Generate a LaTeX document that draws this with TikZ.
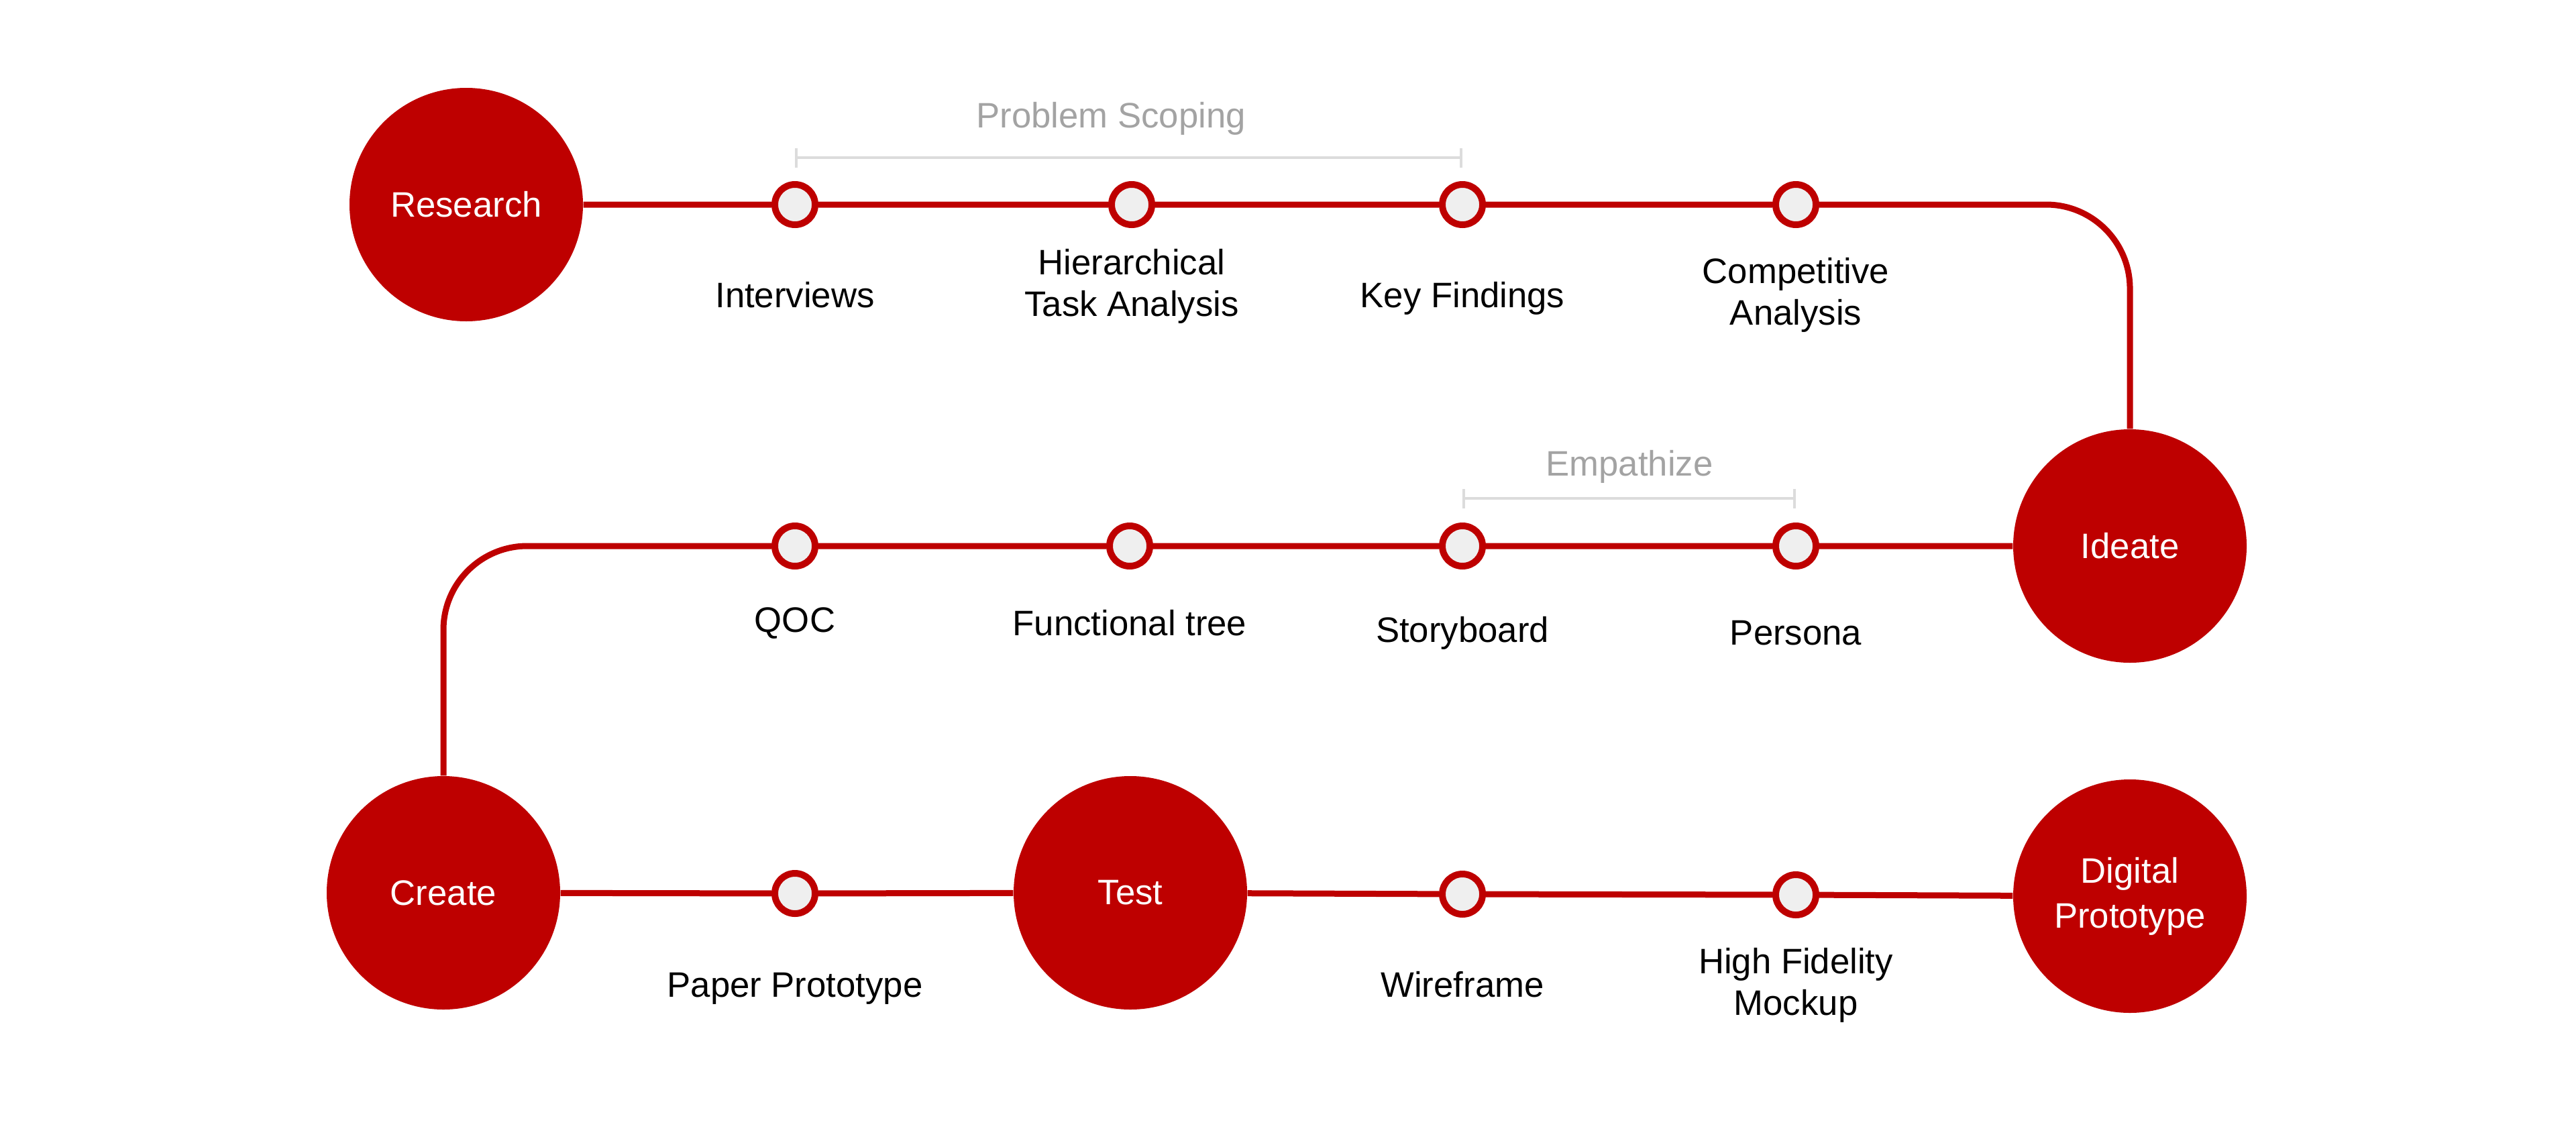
\documentclass[tikz,border=0pt]{standalone}
\usepackage{fontspec}
\setmainfont{Liberation Sans}
\usetikzlibrary{positioning, arrows.meta}
\definecolor{flowred}{HTML}{BE0000}
\definecolor{dotfill}{HTML}{EFEFEF}
\definecolor{phasegray}{HTML}{A3A3A3}
\definecolor{bracketgray}{HTML}{DCDCDC}

\begin{document}
\begin{tikzpicture}[node distance={1.35cm},
    stage/.style = {circle, fill=flowred, minimum size=3.48cm, inner sep=0pt, text=white, align=center, font=\fontsize{15}{19}\selectfont},
    stop/.style = {circle, draw=flowred, line width=1mm, fill=dotfill, minimum size=6mm, inner sep=0pt},
    caption/.style = {align=center, font=\fontsize{15}{17.5}\selectfont},
    phase/.style = {text=phasegray, font=\fontsize{15}{18}\selectfont},
    track/.style = {flowred, line width=0.9mm, rounded corners=1.25cm},
    span/.style = {bracketgray, line width=0.4mm, {Bar[width=2.9mm]}-{Bar[width=2.9mm]}}]
    \useasboundingbox (0,0) rectangle (38.4,-17.06);

    % stages
    \node[stage] (research) at (6.95,-3.05) {Research};
    \node[stage] (ideate) at (31.75,-8.14) {Ideate};
    \node[stage] (create) at (6.61,-13.31) {Create};
    \node[stage] (test) at (16.85,-13.31) {Test};
    \node[stage] (digital) at (31.75,-13.36) {Digital\\Prototype};

    % steps
    \node[stop] (int) at (11.85,-3.05) {};
    \node[stop] (hta) at (16.87,-3.05) {};
    \node[stop] (kf) at (21.80,-3.05) {};
    \node[stop] (ca) at (26.77,-3.05) {};

    \node[stop] (pers) at (26.77,-8.14) {};
    \node[stop] (sb) at (21.80,-8.14) {};
    \node[stop] (ft) at (16.84,-8.14) {};
    \node[stop] (qoc) at (11.85,-8.14) {};

    \node[stop] (ppr) at (11.85,-13.32) {};
    \node[stop] (wf) at (21.80,-13.33) {};
    \node[stop] (hfm) at (26.77,-13.34) {};

    % captions
    \node[caption] (int-l) [below of=int] {Interviews};
    \node[caption] (hta-l) [below of=hta, yshift=1.3mm] {Hierarchical\\Task Analysis};
    \node[caption] (kf-l) [below of=kf, yshift=-0.5mm] {Key Findings};
    \node[caption] (ca-l) [below of=ca] {Competitive\\Analysis};

    \node[caption] (qoc-l) [below of=qoc, yshift=2mm] {QOC};
    \node[caption] (ft-l) [below of=ft, yshift=2mm] {Functional tree};
    \node[caption] (sb-l) [below of=sb, yshift=0.5mm] {Storyboard};
    \node[caption] (pers-l) [below of=pers, yshift=0.5mm] {Persona};

    \node[caption] (ppr-l) [below of=ppr, yshift=-0.7mm] {Paper Prototype};
    \node[caption] (wf-l) [below of=wf] {Wireframe};
    \node[caption] (hfm-l) [below of=hfm] {High Fidelity\\Mockup};

    % phases
    \draw[span] ([yshift=7mm]int.center) -- ([yshift=7mm]kf.center);
    \node[phase] (scoping) at (16.56,-1.77) {Problem Scoping};
    \draw[span] ([yshift=7.1mm]sb.center) -- ([yshift=7.1mm]pers.center);
    \node[phase] (empathize) at (24.29,-6.96) {Empathize};

    % track
    \draw[track] (research) -- (int) -- (hta) -- (kf) -- (ca) -| (ideate);
    \draw[track] (ideate) -- (pers) -- (sb) -- (ft) -- (qoc) -| (create);
    \draw[track] (create) -- (ppr) -- (test) -- (wf) -- (hfm) -- (digital);
\end{tikzpicture}
\end{document}
